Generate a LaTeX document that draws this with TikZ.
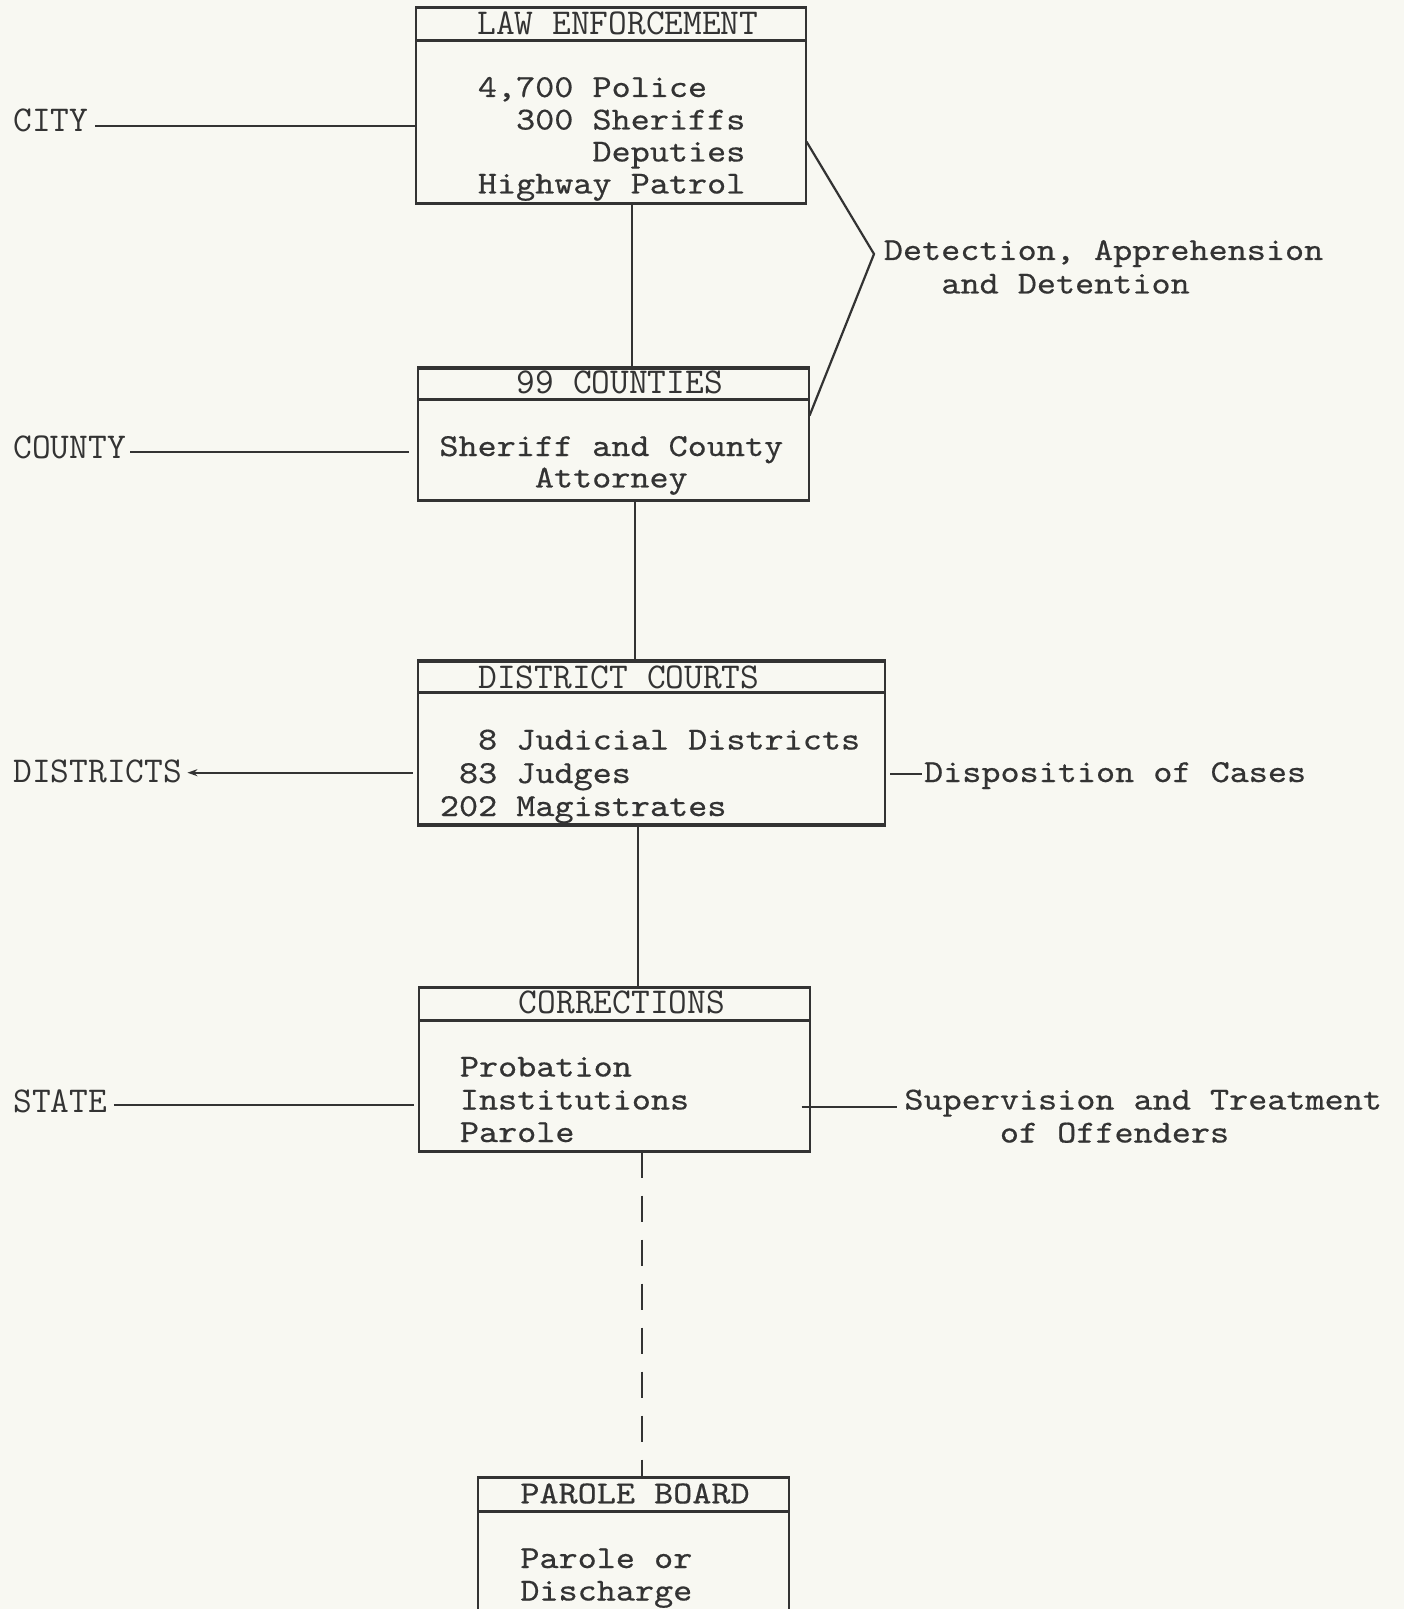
\documentclass[tikz,border=0pt]{standalone}
\usepackage{fontspec}
\newfontfamily\cour[FakeBold=0.5, FakeStretch=1.137]{lmmono10-regular.otf}
\usetikzlibrary{calc,arrows.meta}
\definecolor{ink}{HTML}{333333}
\definecolor{paper}{HTML}{F8F8F2}
\begin{document}
\begin{tikzpicture}[x=0.5pt,y=-0.5pt,
  box/.style={draw=ink, line width=1pt, rectangle, inner sep=0pt},
  rule/.style={draw=ink, line width=1.5pt},
  link/.style={draw=ink, line width=1pt},
  cr/.style={font=\cour\fontsize{16}{16}\selectfont, text=ink, inner sep=0pt, anchor=base west},
  hd/.style={font=\ttfamily\fontsize{18.19}{18}\selectfont, text=ink, inner sep=0pt, anchor=base west}]
\fill[paper] (0,0) rectangle (1404,1609);
\useasboundingbox (0,0) rectangle (1404,1609);

% ---------- boxes ----------
\node[box, minimum width=194.75pt, minimum height=97.35pt] (b1) at (610.75,105.65) {};
\node[box, minimum width=195.25pt, minimum height=65.25pt] (b2) at (613.25,434.25) {};
\node[box, minimum width=233.5pt, minimum height=81.15pt] (b3) at (651.5,742.85) {};
\node[box, minimum width=195.25pt, minimum height=81.2pt] (b4) at (614.25,1069.5) {};
\node[box, minimum width=155.35pt, minimum height=73.35pt] (b5) at (633.65,1551.65) {};

% heavier typed rules (top, header, bottom)
\draw[rule] (b1.north west) -- (b1.north east);
\draw[rule] ($(b1.north west)+(0,33.7)$) -- ($(b1.north east)+(0,33.7)$);
\draw[rule] (b1.south west) -- (b1.south east);
\draw[rule] (b2.north west) -- (b2.north east);
\draw[rule] ($(b2.north west)+(0,31.6)$) -- ($(b2.north east)+(0,31.6)$);
\draw[rule] (b2.south west) -- (b2.south east);
\draw[rule] (b3.north west) -- (b3.north east);
\draw[rule] ($(b3.north west)+(0,31.8)$) -- ($(b3.north east)+(0,31.8)$);
\draw[rule] (b3.south west) -- (b3.south east);
\draw[rule] (b4.north west) -- (b4.north east);
\draw[rule] ($(b4.north west)+(0,33.2)$) -- ($(b4.north east)+(0,33.2)$);
\draw[rule] (b4.south west) -- (b4.south east);
\draw[rule] (b5.north west) -- (b5.north east);
\draw[rule] ($(b5.north west)+(0,34.4)$) -- ($(b5.north east)+(0,34.4)$);

% ---------- box texts ----------
\node[hd] (h1) at (477,34.6) {LAW ENFORCEMENT};
\node[cr] (t1a) at (477.5,97) {4,700 Police};
\node[cr] (t1b) at (515.7,129.5) {300 Sheriffs};
\node[cr] (t1c) at (592.1,161.5) {Deputies};
\node[cr] (t1d) at (477.5,193.5) {Highway Patrol};

\node[hd] (h2) at (516.5,393.6) {99 COUNTIES};
\node[cr] (t2a) at (439,456) {Sheriff and County};
\node[cr] (t2b) at (534.5,487.5) {Attorney};

\node[hd] (h3) at (478,688) {DISTRICT COURTS};
\node[cr] (t3a) at (477.7,749.5) {8 Judicial Districts};
\node[cr] (t3b) at (458.6,783) {83 Judges};
\node[cr] (t3c) at (439.5,816) {202 Magistrates};

\node[hd] (h4) at (518.5,1013.5) {CORRECTIONS};
\node[cr] (t4a) at (459.5,1076.5) {Probation};
\node[cr] (t4b) at (459.5,1109.5) {Institutions};
\node[cr] (t4c) at (459.5,1142) {Parole};

\node[cr] (h5) at (520,1503.3) {PAROLE BOARD};
\node[cr] (t5a) at (520,1568) {Parole or};
\node[cr] (t5b) at (520,1600.5) {Discharge};

% ---------- left labels ----------
\node[hd] (city) at (13,132) {CITY};
\node[hd] (cnty) at (13,458.5) {COUNTY};
\node[hd] (dist) at (13,782.8) {DISTRICTS};
\node[hd] (state) at (13,1112) {STATE};

\coordinate (cityY) at (0,126);
\coordinate (cntyY) at (0,451.7);
\coordinate (distY) at (0,772.7);
\coordinate (stY) at (0,1105);
\draw[link, shorten <=3.3pt] (city.east |- cityY) -- (b1.west |- cityY);
\draw[link, shorten <=2pt, shorten >=4pt] (cnty.east |- cntyY) -- (b2.west |- cntyY);
\draw[link, {Stealth[length=5pt,width=3.5pt]}-, shorten <=2.5pt, shorten >=2.2pt] (dist.east |- distY) -- (b3.west |- distY);
\draw[link, shorten <=3.2pt, shorten >=2pt] (state.east |- stY) -- (b4.west |- stY);

% ---------- right labels ----------
\node[cr] (det1) at (883.5,260) {Detection, Apprehension};
\node[cr] (det2) at (941,293.5) {and Detention};
\coordinate (angT) at (0,141.6);
\coordinate (angB) at (0,415.7);
\coordinate (dtip) at (874,254);
\draw[draw=ink, line width=1.1pt, line join=miter] (b1.east |- angT) -- (dtip) -- (b2.east |- angB);

\node[cr] (disp) at (923.7,782) {Disposition of Cases};
\coordinate (dispY) at (0,774);
\draw[link, shorten <=2pt, shorten >=1pt] (b3.east |- dispY) -- (disp.west |- dispY);

\node[cr] (sup1) at (904,1109.5) {Supervision and Treatment};
\node[cr] (sup2) at (999.5,1142.5) {of Offenders};
\coordinate (supY) at (0,1107);
\draw[link, shorten >=3.5pt] ($(b4.east |- supY)+(-9,0)$) -- (sup1.west |- supY);

% ---------- vertical connectors ----------
\coordinate (v1) at (631.5,0);
\coordinate (v2) at (634.5,0);
\coordinate (v3) at (637.5,0);
\coordinate (v4) at (641.7,0);
\draw[link] (b1.south -| v1) -- (b2.north -| v1);
\draw[link] (b2.south -| v2) -- (b3.north -| v2);
\draw[link] (b3.south -| v3) -- (b4.north -| v3);
\draw[link, dash pattern=on 13pt off 9pt] (b4.south -| v4) -- (b5.north -| v4);
\end{tikzpicture}
\end{document}
